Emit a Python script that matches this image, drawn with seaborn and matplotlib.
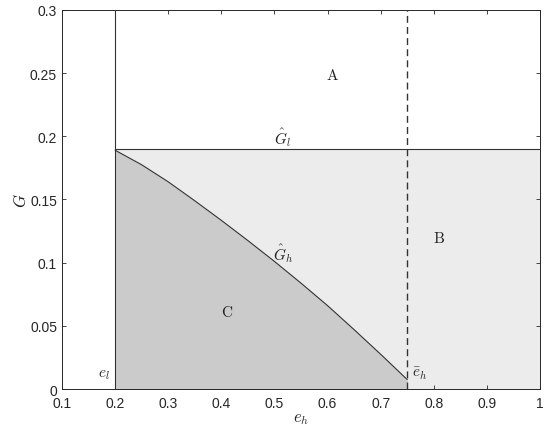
import numpy as np
import pandas as pd
import matplotlib
matplotlib.use("Agg")
import matplotlib.pyplot as plt
import seaborn as sns

# boundary G_h(e_h)
e_h = [0.2, 0.25, 0.3, 0.35, 0.4, 0.45, 0.5, 0.55, 0.6, 0.65, 0.7, 0.75]
G_h = [0.189, 0.1775, 0.164, 0.149, 0.1335, 0.1175, 0.101, 0.0838, 0.066, 0.047, 0.0275, 0.0075]
e_l = 0.2
e_bar = 0.75
G_l = 0.19
x_ticks = [0.1, 0.2, 0.3, 0.4, 0.5, 0.6, 0.7, 0.8, 0.9, 1.0]
x_labels = ["0.1", "0.2", "0.3", "0.4", "0.5", "0.6", "0.7", "0.8", "0.9", "1"]
y_ticks = [0, 0.05, 0.1, 0.15, 0.2, 0.25, 0.3]
y_labels = ["0", "0.05", "0.1", "0.15", "0.2", "0.25", "0.3"]

df = pd.DataFrame({"e_h": e_h, "G_h": G_h})

sns.set_style("ticks")
plt.rcParams["font.family"] = ["Liberation Sans", "DejaVu Sans"]
plt.rcParams["mathtext.fontset"] = "cm"

fig = plt.figure(figsize=(5.5, 4.39), dpi=100)
ax = fig.add_axes([0.1127, 0.1116, 0.8691, 0.8634])

line_col = "#333333"

# regions
ax.fill_between([e_l, 1.0], 0, G_l, color="#ececec", lw=0, zorder=0)
ax.fill_between(df["e_h"], 0, df["G_h"], color="#cbcbcb", lw=0, zorder=1)

sns.lineplot(data=df, x="e_h", y="G_h", color=line_col, lw=0.8, ax=ax, zorder=3)
ax.plot([e_l, e_l], [0, 0.3], color=line_col, lw=0.8, zorder=3)
ax.plot([e_l, 1.0], [G_l, G_l], color=line_col, lw=0.8, zorder=3)
ax.plot([e_bar, e_bar], [0, 0.3], color=line_col, lw=1.0, ls=(0, (5, 3)), zorder=3)

txt = dict(fontsize=11, color="#222222", ha="center", va="center")
ax.text(0.61, 0.249, r"$\mathrm{A}$", **txt)
ax.text(0.81, 0.120, r"$\mathrm{B}$", **txt)
ax.text(0.411, 0.061, r"$\mathrm{C}$", **txt)
ax.text(0.516, 0.200, r"$\hat{G}_l$", **txt)
ax.text(0.516, 0.108, r"$\hat{G}_h$", **txt)
ax.text(0.179, 0.012, r"$e_l$", **txt)
ax.text(0.774, 0.013, r"$\bar{e}_h$", **txt)

ax.set_xlim(0.1, 1.0)
ax.set_ylim(0, 0.3)
ax.set_xticks(x_ticks)
ax.set_xticklabels(x_labels)
ax.set_yticks(y_ticks)
ax.set_yticklabels(y_labels)
ax.tick_params(direction="in", top=True, right=True, length=3, width=0.6,
               labelsize=10, colors="#262626", labelcolor="#262626")
ax.tick_params(axis="x", pad=5)
for s in ax.spines.values():
    s.set_color("#262626")
    s.set_linewidth(0.7)

ax.set_xlabel(r"$e_h$", fontsize=12, color="#262626", labelpad=1)
ax.set_ylabel(r"$G$", fontsize=12, color="#262626", labelpad=1)

fig.savefig("out.png", dpi=100)
